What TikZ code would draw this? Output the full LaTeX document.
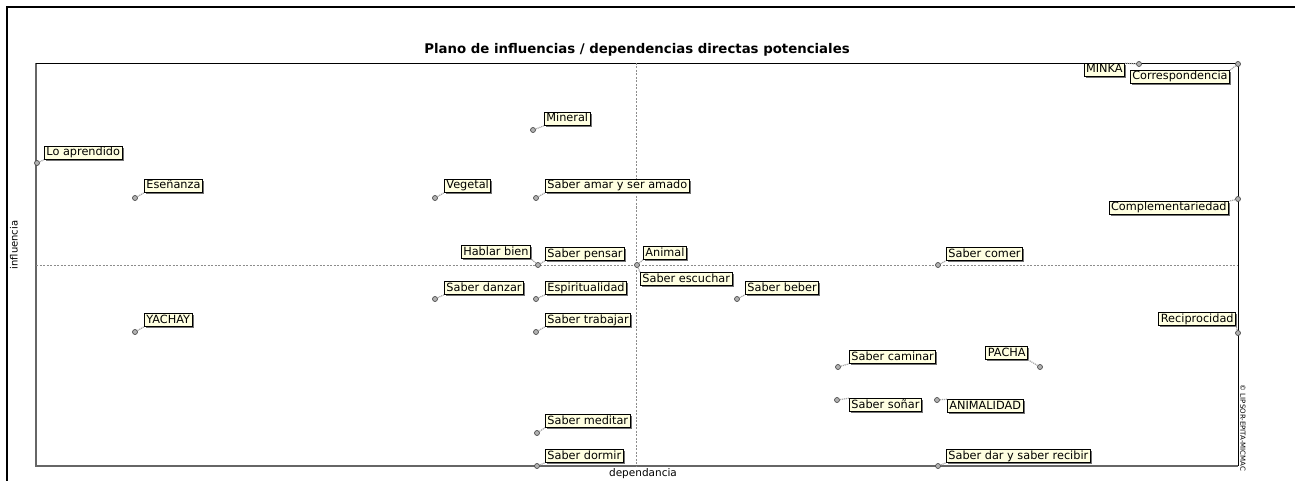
\documentclass[tikz,border=0pt]{standalone}
\usepackage{fontspec}
\setmainfont{DejaVu Sans}
\usetikzlibrary{shadows}
\definecolor{tipfill}{HTML}{FFFFE1}
\tikzset{
  lab/.style={draw=black, line width=0.8pt, fill=tipfill, inner xsep=2pt, inner ysep=1pt,
    text height=8.4pt, text depth=2.4pt,
    font=\fontsize{11.3}{12}\selectfont,
    drop shadow={shadow xshift=1.6pt, shadow yshift=-1.6pt, fill=black!55, opacity=1}},
  pmark/.style={circle, draw=black!70, fill=black!30, line width=0.7pt, inner sep=0pt, minimum size=5pt},
  leader/.style={draw=black!35, line width=1.2pt, dash pattern=on 1.2pt off 0.8pt},
  axisdash/.style={draw=black!45, line width=0.6pt, dash pattern=on 2pt off 1.5pt},
}
\newcommand{\varW}[6]{% name, px, py, bx, by, text
  \node[pmark] (p#1) at (#2,#3) {};
  \node[lab, anchor=west] (l#1) at (#4,#5) {#6};
  \draw[leader] (p#1) -- (l#1.south west);
}
\begin{document}
\begin{tikzpicture}[x=1pt,y=-1pt]
\useasboundingbox (0,0) rectangle (1295,481);
% outer frame
\draw[line width=2pt] (7,481) -- (7,7) -- (1295,7);
% title
\node[font=\bfseries\fontsize{13.3}{15}\selectfont] (title) at (637,50) {Plano de influencias / dependencias directas potenciales};
% plot frame
\draw[black!60, line width=1.6pt] (36,63) -- (36,466) -- (1238,466);
\draw[black, line width=0.8pt] (36,63) -- (1238,63) -- (1238,466);
% axes
\draw[axisdash] (636,63) -- (636,466);
\draw[axisdash] (36,265) -- (1238,265);
% axis titles
\node[font=\fontsize{10}{11}\selectfont, rotate=90] (ylab) at (14,245) {influencia};
\node[font=\fontsize{10.5}{11}\selectfont] (xlab) at (643,474) {dependancia};
\node[font=\fontsize{7}{8}\selectfont, rotate=-90] (copy) at (1243,428) {© LIPSOR-EPITA-MICMAC};

% points and labels
\varW{min}{533}{130}{544}{119}{Mineral}
\varW{apr}{37}{163}{44}{153}{Lo aprendido}
\varW{ens}{135}{198}{144}{186}{Eseñanza}
\varW{veg}{435}{198}{444}{186}{Vegetal}
\varW{ama}{536}{198}{545}{186}{Saber amar y ser amado}
\varW{pen}{538}{265}{545}{254}{Saber pensar}
\varW{ani}{637}{265}{643}{253}{Animal}
\varW{com}{938}{265}{946}{254}{Saber comer}
\varW{dan}{435}{299}{444}{288}{Saber danzar}
\varW{esp}{536}{299}{545}{288}{Espiritualidad}
\varW{beb}{737}{299}{745}{288}{Saber beber}
\varW{yac}{135}{332}{144}{320}{YACHAY}
\varW{tra}{536}{332}{545}{320}{Saber trabajar}
\varW{cam}{838}{367}{849}{357}{Saber caminar}
\varW{med}{537}{433}{545}{421}{Saber meditar}
\varW{dor}{537}{466}{545}{456}{Saber dormir}
\varW{dar}{938}{466}{946}{456}{Saber dar y saber recibir}

% special placements
\node[pmark] (pmik) at (1139,64) {};
\node[lab, anchor=east] (lmik) at (1125,70) {MINKA};
\draw[leader] (pmik) -- (lmik.north east);

\node[pmark] (pcor) at (1238,64) {};
\node[lab, anchor=east] (lcor) at (1230,77) {Correspondencia};
\draw[leader] (pcor) -- (lcor.north east);

\node[pmark] (pcpl) at (1238,199) {};
\node[lab, anchor=east] (lcpl) at (1229,208) {Complementariedad};
\draw[leader] (pcpl) -- (lcpl.north east);

\node[lab, anchor=east] (lhab) at (531,252) {Hablar bien};
\draw[leader] (ppen) -- (lhab.south east);

\node[lab, anchor=west] (lesc) at (640,279) {Saber escuchar};
\draw[leader] (pani) -- (lesc.north west);

\node[pmark] (prec) at (1238,333) {};
\node[lab, anchor=east] (lrec) at (1236,319) {Reciprocidad};
\draw[leader] (prec) -- (lrec.south east);

\node[pmark] (ppac) at (1040,367) {};
\node[lab, anchor=east] (lpac) at (1028,353) {PACHA};
\draw[leader] (ppac) -- (lpac.south east);

\node[pmark] (pson) at (837,400) {};
\node[lab, anchor=west] (lson) at (849,405) {Saber soñar};
\draw[leader] (pson) -- (lson.north west);

\node[pmark] (panm) at (937,400) {};
\node[lab, anchor=west] (lanm) at (947,406) {ANIMALIDAD};
\draw[leader] (panm) -- (lanm.north west);
\end{tikzpicture}
\end{document}
